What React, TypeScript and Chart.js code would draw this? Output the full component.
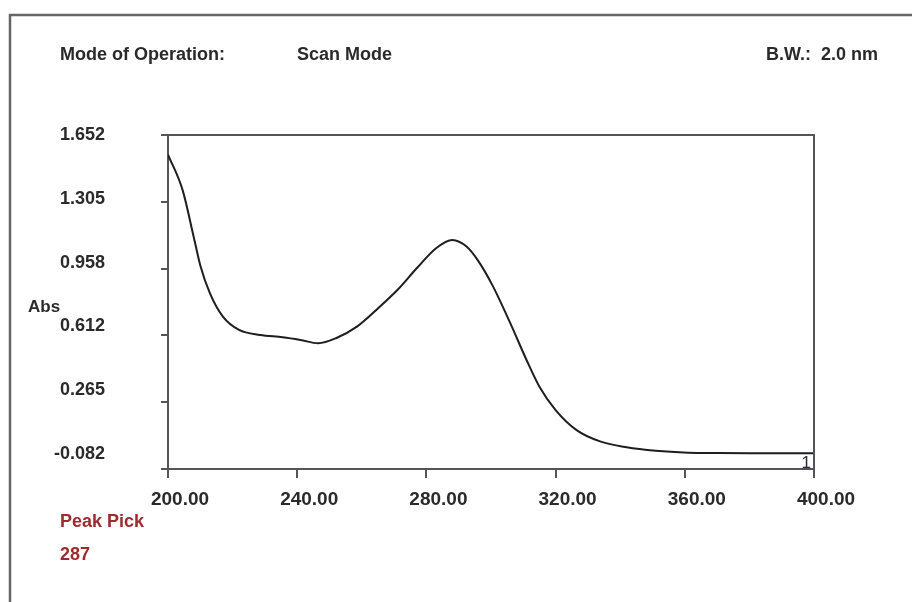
import React, { useEffect, useRef } from "react";
import { Chart, registerables } from "chart.js";

Chart.register(...registerables);

// Spectrum (wavelength nm -> absorbance)
const wavelengths = [
  200, 204.5, 208, 210, 213, 217, 222, 228.5, 235.5, 241, 246.5, 252, 258.5,
  264.5, 271, 277, 283, 288, 292.5, 296, 300.5, 306, 311, 315, 320, 326.5,
  334, 342, 351, 361, 370, 380, 390, 400,
];
const absorbance = [
  1.55, 1.367, 1.12, 0.975, 0.83, 0.709, 0.64, 0.614, 0.602, 0.588, 0.571,
  0.597, 0.657, 0.744, 0.847, 0.96, 1.064, 1.107, 1.072, 1.0, 0.87, 0.674,
  0.484, 0.345, 0.224, 0.12, 0.06, 0.031, 0.013, 0.003, 0.001, 0.0, 0.0, 0.0,
];
const xTickValues = [200, 240, 280, 320, 360, 400];
const xTickLabels = ["200.00", "240.00", "280.00", "320.00", "360.00", "400.00"];
const yTickValues = [-0.082, 0.265, 0.612, 0.958, 1.305, 1.652];
const yTickLabels = ["-0.082", "0.265", "0.612", "0.958", "1.305", "1.652"];
// the printout places its labels on a slightly compressed ladder
const yLabelAxisMin = -0.1635;
const yLabelAxisMax = 1.652;

const headerLeftLabel = "Mode of Operation:";
const headerMode = "Scan Mode";
const headerBW = "B.W.:  2.0 nm";
const yTitle = "Abs";
const peakTitle = "Peak Pick";
const peakValues = ["287"];
const cursorMark = "1";

const FONT = '"Liberation Sans", Arial, Helvetica, sans-serif';
const TEXT = "#2a2a2a";
const AXIS = "#555555";
const RED = "#9e2a2e";

const nearestLabel = (v: number) => {
  let best = 0;
  yTickValues.forEach((t, i) => {
    if (Math.abs(t - v) < Math.abs(yTickValues[best] - v)) best = i;
  });
  return yTickLabels[best];
};

const decorPlugin = {
  id: "decor",
  afterDraw(chart: any) {
    const ctx = chart.ctx as CanvasRenderingContext2D;
    const a = chart.chartArea;
    ctx.save();
    // outer frame (top + left edges)
    ctx.strokeStyle = "#666666";
    ctx.lineWidth = 2.5;
    ctx.beginPath();
    ctx.moveTo(10, 602);
    ctx.lineTo(10, 15);
    ctx.lineTo(912, 15);
    ctx.stroke();

    // plot box top and right
    ctx.strokeStyle = AXIS;
    ctx.lineWidth = 2;
    ctx.beginPath();
    ctx.moveTo(a.left, a.top);
    ctx.lineTo(a.right, a.top);
    ctx.lineTo(a.right, a.bottom);
    ctx.stroke();

    // header texts
    ctx.fillStyle = TEXT;
    ctx.font = `bold 18px ${FONT}`;
    ctx.textBaseline = "alphabetic";
    ctx.textAlign = "left";
    ctx.fillText(headerLeftLabel, 60, 60);
    ctx.fillText(headerMode, 297, 60);
    ctx.textAlign = "right";
    ctx.fillText(headerBW, 878, 60);

    // y title
    ctx.textAlign = "left";
    ctx.font = `bold 17px ${FONT}`;
    ctx.fillText(yTitle, 28, 312);

    // peak pick
    ctx.fillStyle = RED;
    ctx.font = `bold 18px ${FONT}`;
    ctx.fillText(peakTitle, 60, 527);
    peakValues.forEach((p, i) => ctx.fillText(p, 60, 560 + i * 33));

    // cursor marker
    ctx.fillStyle = "#223044";
    ctx.font = `17px ${FONT}`;
    ctx.textAlign = "right";
    ctx.fillText(cursorMark, a.right - 3, a.bottom - 1);
    ctx.restore();
  },
};

export default function App() {
  const ref = useRef<HTMLCanvasElement | null>(null);
  useEffect(() => {
    if (!ref.current) return;
    const points = wavelengths.map((w, i) => ({ x: w, y: absorbance[i] }));
    const chart = new Chart(ref.current, {
      type: "line",
      data: {
        datasets: [
          {
            data: points,
            yAxisID: "y",
            borderColor: "#1e1e1e",
            borderWidth: 2,
            pointRadius: 0,
            cubicInterpolationMode: "monotone",
            fill: false,
          },
        ],
      },
      options: {
        responsive: false,
        animation: false,
        events: [],
        layout: { padding: { top: 135, right: 98, left: 0, bottom: 0 } },
        plugins: { legend: { display: false }, tooltip: { enabled: false } },
        scales: {
          x: {
            type: "linear",
            min: 200,
            max: 400,
            afterFit: (s: any) => {
              s.height = 133;
            },
            afterBuildTicks: (s: any) => {
              s.ticks = xTickValues.map((v) => ({ value: v }));
            },
            ticks: {
              color: TEXT,
              font: { family: FONT, size: 19, weight: "bold" },
              padding: 10,
              labelOffset: 12,
              maxRotation: 0,
              autoSkip: false,
              callback: (v: any) => {
                const i = xTickValues.indexOf(Number(v));
                return i >= 0 ? xTickLabels[i] : "";
              },
            },
            grid: {
              drawOnChartArea: false,
              drawTicks: true,
              tickLength: 9,
              color: AXIS,
              lineWidth: 2,
            },
            border: { display: true, color: AXIS, width: 2 },
          },
          y: {
            type: "linear",
            position: "left",
            weight: 0,
            min: -0.082,
            max: 1.652,
            afterFit: (s: any) => {
              s.width = 8;
            },
            afterBuildTicks: (s: any) => {
              s.ticks = yTickValues.map((v) => ({ value: v }));
            },
            ticks: { display: false },
            grid: {
              drawOnChartArea: false,
              drawTicks: true,
              tickLength: 7,
              color: AXIS,
              lineWidth: 2,
            },
            border: { display: true, color: AXIS, width: 2 },
          },
          yLabels: {
            type: "linear",
            position: "left",
            weight: 1,
            min: yLabelAxisMin,
            max: yLabelAxisMax,
            afterFit: (s: any) => {
              s.width = 160;
            },
            afterBuildTicks: (s: any) => {
              s.ticks = yTickValues.map((v) => ({ value: v }));
            },
            ticks: {
              color: TEXT,
              font: { family: FONT, size: 18, weight: "bold" },
              padding: 47,
              autoSkip: false,
              callback: (v: any) => nearestLabel(Number(v)),
            },
            grid: { display: false },
            border: { display: false },
          },
        },
      },
      plugins: [decorPlugin],
    });
    return () => chart.destroy();
  }, []);
  return (
    <div style={{ position: "fixed", left: 0, top: 0, width: 912, height: 602, background: "#fff" }}>
      <canvas ref={ref} width={912} height={602} style={{ display: "block" }} />
    </div>
  );
}
